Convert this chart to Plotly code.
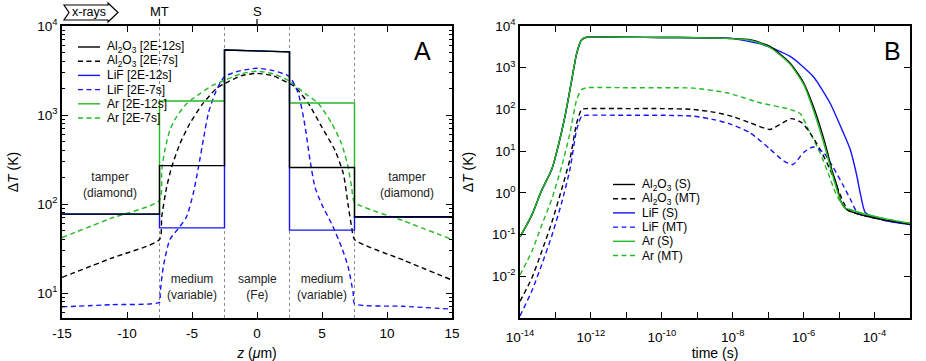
import math
import plotly.graph_objects as go

W, H = 926, 361
FONT = "Liberation Sans, Arial, Helvetica, sans-serif"

# ---------------- Panel A data : temperature profiles vs z (um) ----------------
z_step = [-15, -7.5, -7.5, -2.5, -2.5, 2.5, 2.5, 7.5, 7.5, 15]
al2o3_2e12 = [77, 77, 270, 270, 5370, 5130, 257, 257, 72, 72]
lif_2e12 = [77, 77, 54, 54, 5370, 5130, 51, 51, 71, 71]
ar_2e12 = [77, 77, 1436, 1436, 5370, 5130, 1365, 1365, 71, 71]

z_al2o3_2e7 = [-15, -11.25, -7.5, -7.33, -6.95, -6.56, -5.92, -5.15, -4.15, -3.1, -2.5, -1.25, 0,
               1.25, 2.5, 2.92, 3.95, 4.97, 6.0, 6.64, 7.0, 7.28, 7.5, 11.25, 15]
al2o3_2e7 = [15, 24.5, 40, 72, 155, 262, 480, 810, 1350, 2000, 2250, 2750, 2940,
             2750, 2250, 2080, 1350, 740, 400, 220, 100, 55, 40, 23.5, 14]

z_lif_2e7 = [-15, -11.25, -7.5, -7.45, -7.2, -6.7, -5.92, -5.4, -4.9, -4.5, -4.13, -3.74, -3.23, -2.5,
             -1.25, 0, 1.25, 2.5, 3.18, 3.7, 4.08, 4.46, 4.97, 5.74, 6.5, 7.0, 7.4, 7.5, 11.25, 15]
lif_2e7 = [7.0, 7.4, 7.9, 10, 20, 40, 56, 73, 132, 262, 525, 1050, 1740, 2700,
           3150, 3350, 3150, 2700, 1740, 740, 310, 155, 100, 60, 33, 20, 10, 7.6, 7.1, 6.6]

z_ar_2e7 = [-15, -11.25, -7.5, -7.33, -7.08, -6.7, -6.18, -5.4, -4.38, -3.38, -2.5, -1.25, 0,
            1.25, 2.5, 3.7, 4.72, 5.74, 6.5, 7.0, 7.28, 7.5, 11.25, 15]
ar_2e7 = [42, 69, 110, 240, 410, 680, 960, 1350, 1740, 2170, 2450, 2900, 3100,
          2900, 2400, 1740, 1350, 810, 480, 262, 155, 105, 65, 40]

boundaries = [-7.5, -2.5, 2.5, 7.5]
region_labels = [(-11.3, "tamper<br>(diamond)", 185), (11.5, "tamper<br>(diamond)", 185),
                 (-5, "medium<br>(variable)", 287), (0, "sample<br>(Fe)", 287),
                 (5, "medium<br>(variable)", 287)]
top_marks = [(-7.5, "MT"), (0, "S")]

# ---------------- Panel B data : temperature vs log10(time) ----------------
lt_al2o3_s = [-14, -13.67, -13.39, -13.1, -12.92, -12.73, -12.54, -12.4, -12.26, -12.12, -11, -10, -9,
              -8.5, -8.08, -7.51, -6.95, -6.38, -6.0, -5.73, -5.54, -5.35, -5.21, -5.07, -4.95,
              -4.79, -4.6, -4.22, -3.66, -3.0]
lg_al2o3_s = [-1.055, -0.54, 0.06, 0.57, 1.13, 1.84, 2.71, 3.35, 3.67, 3.73, 3.73, 3.725, 3.72,
              3.71, 3.70, 3.67, 3.51, 3.11, 2.64, 2.08, 1.6, 1.05, 0.57, 0.2, -0.2,
              -0.4, -0.47, -0.56, -0.66, -0.75]

lt_lif_s = [-14, -13.67, -13.39, -13.1, -12.92, -12.73, -12.54, -12.4, -12.26, -12.12, -11, -10, -9,
            -8.5, -8.08, -7.14, -6.38, -5.73, -5.26, -4.88, -4.69, -4.5, -4.41, -4.27, -4.1,
            -3.66, -3.0]
lg_lif_s = [-1.055, -0.54, 0.06, 0.57, 1.13, 1.84, 2.71, 3.35, 3.67, 3.73, 3.73, 3.725, 3.72,
            3.71, 3.71, 3.55, 3.27, 2.79, 2.16, 1.44, 1.05, 0.41, 0.02, -0.46, -0.55,
            -0.67, -0.76]

lt_ar_s = [-14, -13.67, -13.39, -13.1, -12.92, -12.73, -12.54, -12.4, -12.26, -12.12, -11, -10, -9,
           -8.5, -8.08, -7.51, -6.95, -6.38, -6.0, -5.73, -5.54, -5.35, -5.21, -5.07, -4.95,
           -4.85, -4.6, -4.22, -3.66, -3.0]
lg_ar_s = [-1.055, -0.54, 0.06, 0.57, 1.13, 1.84, 2.71, 3.35, 3.67, 3.73, 3.73, 3.725, 3.72,
           3.71, 3.70, 3.66, 3.49, 3.08, 2.6, 2.0, 1.5, 0.95, 0.5, 0.1, -0.22,
           -0.35, -0.43, -0.52, -0.63, -0.73]

lt_al2o3_mt = [-14, -13.67, -13.39, -13.1, -12.82, -12.59, -12.4, -12.26, -12.12, -11, -10, -9.11,
               -8.5, -8.0, -7.51, -6.95, -6.67, -6.34, -6.05, -5.82, -5.54, -5.26, -5.07, -4.88,
               -4.74, -4.22, -3.66, -3.0]
lg_al2o3_mt = [-2.6, -2.05, -1.41, -0.7, 0.1, 0.81, 1.68, 2.0, 2.02, 2.02, 2.02, 2.0,
               1.93, 1.83, 1.68, 1.52, 1.64, 1.78, 1.68, 1.44, 1.05, 0.57, 0.17, -0.22,
               -0.42, -0.56, -0.66, -0.75]

lt_lif_mt = [-14, -13.67, -13.39, -13.1, -12.82, -12.59, -12.4, -12.26, -12.12, -11, -10, -9.11,
             -8.5, -8.1, -7.51, -6.95, -6.57, -6.3, -6.0, -5.73, -5.44, -5.16, -4.88, -4.69,
             -4.5, -4.36, -4.1, -3.66, -3.0]
lg_lif_mt = [-2.95, -2.36, -1.73, -1.02, -0.22, 0.57, 1.52, 1.84, 1.86, 1.86, 1.86, 1.84,
             1.75, 1.66, 1.44, 1.05, 0.77, 0.68, 0.97, 1.1, 0.97, 0.6, 0.17, -0.14,
             -0.46, -0.54, -0.57, -0.67, -0.76]

lt_ar_mt = [-14, -13.67, -13.39, -13.1, -12.82, -12.59, -12.4, -12.26, -12.12, -11, -10, -9.1,
            -8.17, -7.23, -6.38, -6.1, -5.82, -5.54, -5.3, -5.1, -4.9, -4.75, -4.22, -3.66, -3.0]
lg_ar_mt = [-1.97, -1.41, -0.78, -0.14, 0.65, 1.44, 2.24, 2.48, 2.52, 2.52, 2.52, 2.51,
            2.4, 2.16, 2.0, 1.9, 1.44, 0.97, 0.45, 0.0, -0.3, -0.38, -0.52, -0.63, -0.73]

BLACK, BLUE, GREEN = "#000000", "#1414ff", "#22bb22"
DASH = "5px,3.5px"
LW = 1.4

fig = go.Figure()


def addA(x, y, color, dash, shape="linear"):
    line = dict(color=color, width=LW, dash=dash, shape=shape)
    if shape == "spline":
        line["smoothing"] = 0.6
    fig.add_trace(go.Scatter(x=x, y=y, mode="lines", xaxis="x", yaxis="y", line=line,
                             showlegend=False, hoverinfo="skip"))


def addB(lt, lg, color, dash):
    fig.add_trace(go.Scatter(x=[10 ** v for v in lt], y=[10 ** v for v in lg], mode="lines",
                             xaxis="x2", yaxis="y2",
                             line=dict(color=color, width=LW, dash=dash, shape="spline", smoothing=0.6),
                             showlegend=False, hoverinfo="skip"))


addA(z_ar_2e7, ar_2e7, GREEN, DASH, "spline")
addA(z_al2o3_2e7, al2o3_2e7, BLACK, DASH, "spline")
addA(z_lif_2e7, lif_2e7, BLUE, DASH, "spline")
addA(z_step, ar_2e12, GREEN, "solid")
addA(z_step, lif_2e12, BLUE, "solid")
addA(z_step, al2o3_2e12, BLACK, "solid")

addB(lt_ar_mt, lg_ar_mt, GREEN, DASH)
addB(lt_al2o3_mt, lg_al2o3_mt, BLACK, DASH)
addB(lt_lif_mt, lg_lif_mt, BLUE, DASH)
addB(lt_lif_s, lg_lif_s, BLUE, "solid")
addB(lt_al2o3_s, lg_al2o3_s, BLACK, "solid")
addB(lt_ar_s, lg_ar_s, GREEN, "solid")

# plot-area geometry in pixels
ML, MT_, MR, MB = 62, 26, 16, 43
PW, PH = W - ML - MR, H - MT_ - MB


def px(x):
    return (x - ML) / PW


def py(y):
    return (H - MB - y) / PH


axis_common = dict(showline=True, linecolor="black", linewidth=1.5, mirror="allticks",
                   ticks="inside", ticklen=6, tickcolor="black", tickwidth=1.2,
                   showgrid=False, zeroline=False, automargin=False,
                   tickfont=dict(family=FONT, size=13.5, color="black"))

dec_A = [10, 100, 1000, 10000]
minor_A = [m * 10 ** d for d in range(0, 4) for m in range(2, 10)]
dec_Bx = [10.0 ** e for e in range(-14, -2)]
dec_By = [10.0 ** e for e in range(-2, 5)]


def sup_label(v):
    e = int(round(math.log10(v)))
    return "10<sup>%d</sup>" % e


fig.update_layout(
    width=W, height=H, margin=dict(l=ML, r=MR, t=MT_, b=MB, autoexpand=False),
    paper_bgcolor="white", plot_bgcolor="white",
    font=dict(family=FONT, size=13, color="black"),
    xaxis=dict(axis_common, domain=[px(62), px(452)], anchor="y", range=[-15, 15],
               tickmode="array", tickvals=[-15, -10, -5, 0, 5, 10, 15],
               ticktext=["-15", "-10", "-5", "0", "5", "10", "15"], ticklabelstandoff=2,
               title=dict(text="<i>z</i> (<i>μ</i>m)", font=dict(size=14))),
    yaxis=dict(axis_common, domain=[0, 1], anchor="x", type="log", range=[0.72, 4],
               tickmode="array", tickvals=dec_A, ticktext=[sup_label(v) for v in dec_A],
               minor=dict(tickmode="array", tickvals=minor_A, ticks="inside", ticklen=3,
                          tickcolor="black", showgrid=False),
               title=dict(text="Δ<i>T</i> (K)", font=dict(size=14))),
    xaxis2=dict(axis_common, domain=[px(520), px(910)], anchor="y2", type="log", range=[-14, -3],
                tickmode="array", tickvals=dec_Bx, ticklabelstandoff=6,
                ticktext=[sup_label(v) if i % 2 == 0 else "" for i, v in enumerate(dec_Bx)],
                title=dict(text="time (s)", font=dict(size=14))),
    yaxis2=dict(axis_common, domain=[0, 1], anchor="x2", type="log", range=[-3, 4],
                tickmode="array", tickvals=dec_By, ticktext=[sup_label(v) for v in dec_By],
                title=dict(text="Δ<i>T</i> (K)", font=dict(size=14))),
)

shapes = []
annotations = []


def note(x, y, text, xref="paper", size=12, color="black", xanchor="center"):
    annotations.append(dict(x=x, y=y, xref=xref, yref="paper", text=text, showarrow=False,
                            xanchor=xanchor, yanchor="middle", align="center",
                            font=dict(size=size, color=color)))


for b in boundaries:
    shapes.append(dict(type="line", xref="x", yref="y domain", x0=b, x1=b, y0=0, y1=1,
                       line=dict(color="#8a8a8a", width=1, dash="dot"), layer="below"))
for zc, txt, ypix in region_labels:
    note(zc, py(ypix), txt, xref="x", size=12, color="#222222")
for zc, txt in top_marks:
    shapes.append(dict(type="line", xref="x", yref="paper", x0=zc, x1=zc, y0=py(26), y1=py(19),
                       line=dict(color="black", width=1.2)))
    note(zc, py(11.5), txt, xref="x", size=13)
# x-rays arrow
pts = [(64, 5), (108, 5), (108, 3), (118, 12.5), (108, 22), (108, 20), (64, 20), (69, 12.5)]
path = "M " + " L ".join("%f,%f" % (px(a), py(b)) for a, b in pts) + " Z"
shapes.append(dict(type="path", xref="paper", yref="paper", path=path,
                   line=dict(color="black", width=1.2), fillcolor="white"))
note(px(89), py(12.5), "x-rays", size=12.5)
note(px(422), py(51), "A", size=25)
note(px(892), py(51), "B", size=25)

legA_names = ["Al<sub>2</sub>O<sub>3</sub> [2E-12s]", "Al<sub>2</sub>O<sub>3</sub> [2E-7s]",
              "LiF [2E-12s]", "LiF [2E-7s]", "Ar [2E-12s]", "Ar [2E-7s]"]
legB_names = ["Al<sub>2</sub>O<sub>3</sub> (S)", "Al<sub>2</sub>O<sub>3</sub> (MT)",
              "LiF (S)", "LiF (MT)", "Ar (S)", "Ar (MT)"]
leg_colors = [BLACK, BLACK, BLUE, BLUE, GREEN, GREEN]
leg_dashes = ["solid", DASH, "solid", DASH, "solid", DASH]


def legend(names, x0, y0, step):
    for i, (nm, c, d) in enumerate(zip(names, leg_colors, leg_dashes)):
        yy = y0 + i * step
        shapes.append(dict(type="line", xref="paper", yref="paper", x0=px(x0), x1=px(x0 + 22),
                           y0=py(yy), y1=py(yy), line=dict(color=c, width=LW, dash=d)))
        note(px(x0 + 27), py(yy), nm, size=12, xanchor="left")


legend(legA_names, 78, 47, 14.2)
legend(legB_names, 613, 184.5, 14.2)

fig.update_layout(shapes=shapes, annotations=annotations)
fig.write_html("out.html", config={"displayModeBar": False},
               post_script="document.body.style.margin='0px';document.body.style.overflow='hidden';")
